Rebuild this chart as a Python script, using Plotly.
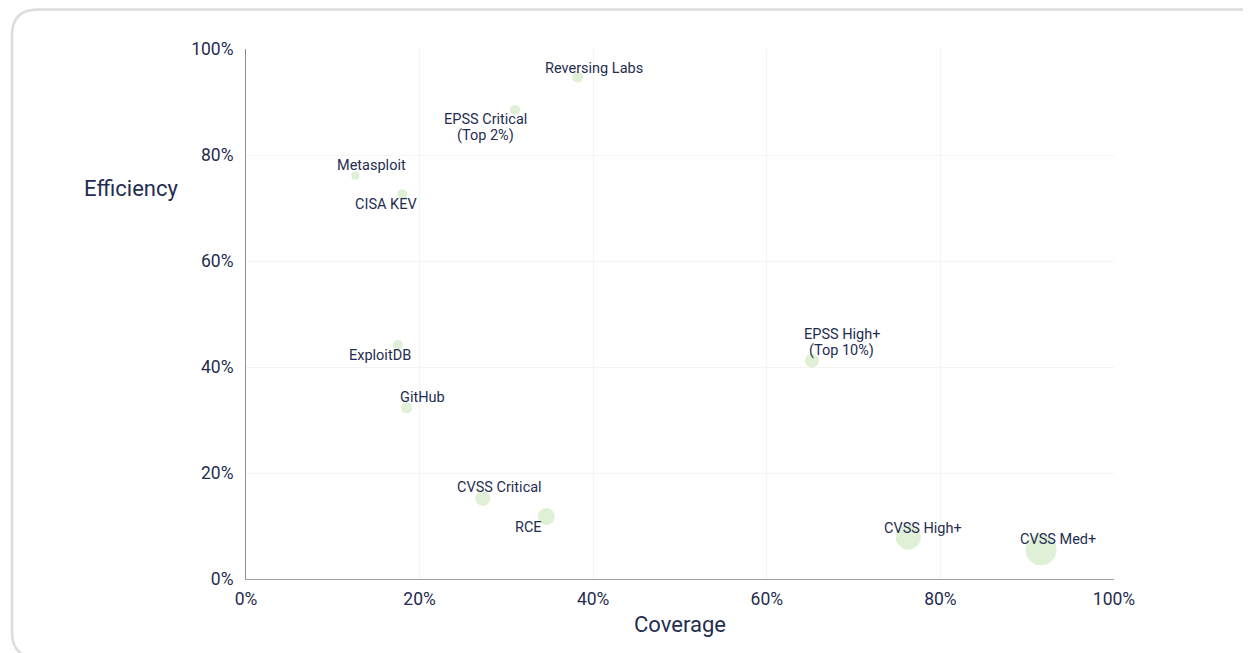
import plotly.graph_objects as go

# ---- data ----
sources = ["Reversing Labs", "EPSS Critical<br>(Top 2%)", "Metasploit", "CISA KEV", "ExploitDB",
           "GitHub", "CVSS Critical", "RCE", "EPSS High+<br>(Top 10%)", "CVSS High+", "CVSS Med+"]
coverage = [38.2, 31.0, 12.6, 18.0, 17.5, 18.5, 27.3, 34.6, 65.2, 76.3, 91.6]
efficiency = [94.7, 88.5, 76.1, 72.6, 44.2, 32.3, 15.2, 11.8, 41.2, 7.9, 5.5]
bubble = [11, 10, 8, 10, 10, 11, 15, 17, 14, 25, 31]
tick_vals = [0, 20, 40, 60, 80, 100]
tick_text = ["0%", "20%", "40%", "60%", "80%", "100%"]

# label offsets (pixels) - styling only
label_dx = [16, -30, 16, -16, -18, 16, 17, -18, 30, 15, 17]
label_dy = [9, -18, 10, -10, -11, 10, 11, -11, 18, 9, 10]
LINE_GAP = 16

FONT = "Roboto, Liberation Sans, sans-serif"
TXT = "#1f2d50"

fig = go.Figure()
fig.add_trace(go.Scatter(
    x=coverage, y=efficiency, mode="markers",
    marker=dict(size=bubble, color="#d3e9c5", line=dict(width=0)),
    hovertext=sources, hoverinfo="text", showlegend=False,
))

annotations = []
for name, cx, cy, dx, dy in zip(sources, coverage, efficiency, label_dx, label_dy):
    lines = name.split("<br>")
    n = len(lines)
    for i, line in enumerate(lines):
        annotations.append(dict(x=cx, y=cy, xref="x", yref="y", text=line, showarrow=False,
                                xshift=dx, yshift=dy + (n - 1) / 2 * LINE_GAP - i * LINE_GAP,
                                font=dict(family=FONT, size=14.5, color=TXT),
                                align="center", xanchor="center", yanchor="middle"))

OFF = 8  # page body margin
W, H = 1251 - OFF, 653 - OFF
SL, SR, ST, SB = 246, 1114, 49, 579  # plot area in screen pixels
L, T = SL - OFF, ST - OFF
R = W + OFF - SR
B = H + OFF - SB
pw, ph = SR - SL, SB - ST


def px(xs):
    return (xs - SL) / pw


def py(ys):
    return (SB - ys) / ph


annotations.append(dict(x=px(131), y=py(188), xref="paper", yref="paper",
                        text="Efficiency", showarrow=False,
                        font=dict(family=FONT, size=22, color=TXT),
                        xanchor="center", yanchor="middle"))

# rounded container border
x0, x1, y0, y1, r = 12, 1290, 9.5, 658, 26
path = (f"M {px(x0 + r)},{py(y0)} L {px(x1 - r)},{py(y0)} Q {px(x1)},{py(y0)} {px(x1)},{py(y0 + r)} "
        f"L {px(x1)},{py(y1 - r)} Q {px(x1)},{py(y1)} {px(x1 - r)},{py(y1)} "
        f"L {px(x0 + r)},{py(y1)} Q {px(x0)},{py(y1)} {px(x0)},{py(y1 - r)} "
        f"L {px(x0)},{py(y0 + r)} Q {px(x0)},{py(y0)} {px(x0 + r)},{py(y0)} Z")

fig.update_layout(
    width=W, height=H,
    margin=dict(l=L, r=R, t=T, b=B),
    paper_bgcolor="white", plot_bgcolor="white",
    font=dict(family=FONT, color=TXT),
    annotations=annotations,
    shapes=[dict(type="path", path=path, xref="paper", yref="paper",
                 line=dict(color="#dcdcdc", width=2.5), fillcolor="rgba(0,0,0,0)", layer="below")],
    xaxis=dict(range=[0, 100], tickvals=tick_vals, ticktext=tick_text,
               showgrid=True, gridcolor="#f4f4f4", gridwidth=1, zeroline=False,
               showline=True, linecolor="#a0a0a0", linewidth=1,
               ticks="outside", ticklen=4, tickcolor="rgba(0,0,0,0)",
               tickfont=dict(size=17.5, color=TXT, family=FONT),
               title=dict(text="Coverage", font=dict(size=22, color=TXT, family=FONT),
                          standoff=8)),
    yaxis=dict(range=[0, 100], tickvals=tick_vals, ticktext=tick_text,
               showgrid=True, gridcolor="#f4f4f4", gridwidth=1, zeroline=False,
               showline=True, linecolor="#909090", linewidth=1,
               ticks="outside", ticklen=8, tickcolor="rgba(0,0,0,0)",
               tickfont=dict(size=17.5, color=TXT, family=FONT)),
)

fig.write_html("out.html")
